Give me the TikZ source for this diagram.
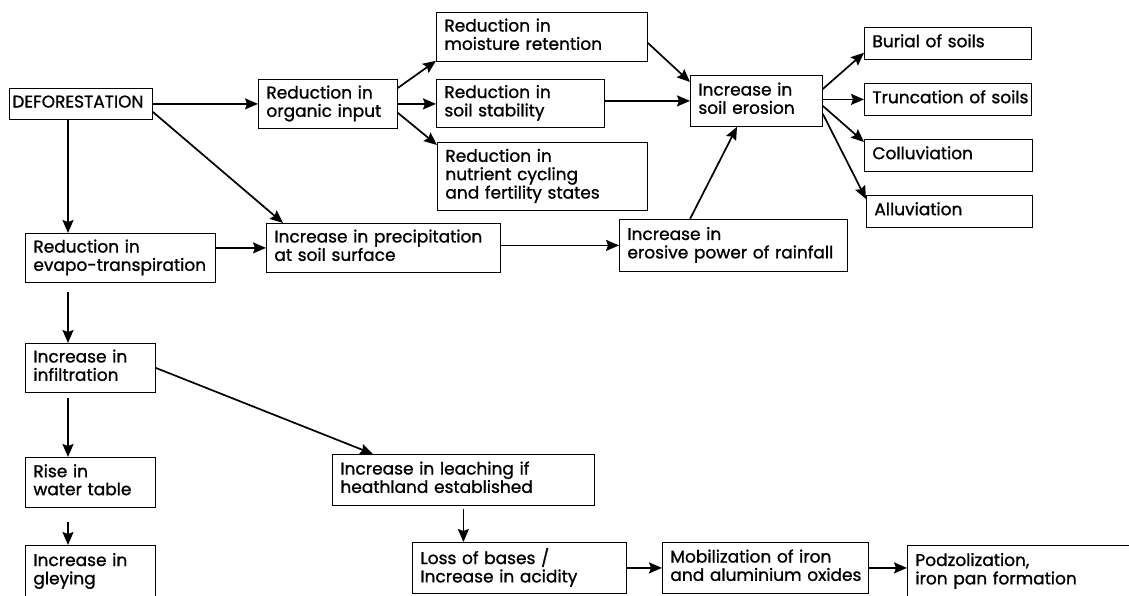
\documentclass[tikz,border=0pt]{standalone}
\usepackage{fontspec}
\setmainfont{Poppins}[FakeBold=1.1]
\usetikzlibrary{arrows.meta}
\newcommand{\pSoilText}[1]{\begin{tabular}{@{}l@{}}#1\end{tabular}}
\tikzset{
  stage/.style={draw, line width=0.8pt, anchor=north west, align=left, inner xsep=8pt, inner ysep=0pt, font=\fontsize{17}{18}\selectfont},
  flow/.style={line width=1.7pt, -{Stealth[length=13pt,width=11pt,inset=2pt]}}
}

\begin{document}
\begin{tikzpicture}[x=1pt,y=-1pt]
\useasboundingbox (0,0) rectangle (1129,595);
\node[stage, minimum width=143pt, minimum height=31pt, text width=137pt, inner xsep=3pt] (defo) at (9,88) {\pSoilText{DEFORESTATION}};
\node[stage, minimum width=139pt, minimum height=49pt, text width=123pt] (organic) at (258,79) {\pSoilText{Reduction in\\organic input}};
\node[stage, minimum width=211pt, minimum height=49pt, text width=195pt] (moisture) at (436,12) {\pSoilText{Reduction in\\moisture retention}};
\node[stage, minimum width=168pt, minimum height=48pt, text width=152pt] (stability) at (436,79) {\pSoilText{Reduction in\\soil stability}};
\node[stage, minimum width=210pt, minimum height=68pt, text width=194pt] (nutrient) at (437,142) {\pSoilText{Reduction in\\nutrient cycling\\and fertility states}};
\node[stage, minimum width=190pt, minimum height=49pt, text width=174pt] (evapo) at (25,233) {\pSoilText{Reduction in\\evapo-transpiration}};
\node[stage, minimum width=234pt, minimum height=49pt, text width=218pt] (precip) at (266,223) {\pSoilText{Increase in precipitation\\at soil surface}};
\node[stage, minimum width=228pt, minimum height=52pt, text width=212pt] (erosive) at (619,219) {\pSoilText{Increase in\\erosive power of rainfall}};
\node[stage, minimum width=132pt, minimum height=51pt, text width=116pt] (erosion) at (690,75) {\pSoilText{Increase in\\soil erosion}};
\node[stage, minimum width=167pt, minimum height=32pt, text width=151pt] (burial) at (864,27) {\pSoilText{Burial of soils}};
\node[stage, minimum width=167pt, minimum height=32pt, text width=151pt] (truncation) at (864,83) {\pSoilText{Truncation of soils}};
\node[stage, minimum width=168pt, minimum height=32pt, text width=152pt] (colluv) at (864,139) {\pSoilText{Colluviation}};
\node[stage, minimum width=166pt, minimum height=32pt, text width=150pt] (alluv) at (866,195) {\pSoilText{Alluviation}};
\node[stage, minimum width=130pt, minimum height=49pt, text width=114pt] (infil) at (25,343) {\pSoilText{Increase in\\infiltration}};
\node[stage, minimum width=130pt, minimum height=50pt, text width=114pt] (watertable) at (25,457) {\pSoilText{Rise in\\water table}};
\node[stage, minimum width=130pt, minimum height=52pt, text width=114pt] (gley) at (25,545) {\pSoilText{Increase in\\gleying}};
\node[stage, minimum width=262pt, minimum height=51pt, text width=246pt] (leaching) at (332,454) {\pSoilText{Increase in leaching if\\heathland established}};
\node[stage, minimum width=214pt, minimum height=51pt, text width=198pt] (bases) at (412,542) {\pSoilText{Loss of bases /\\Increase in acidity}};
\node[stage, minimum width=206pt, minimum height=51pt, text width=190pt] (mobil) at (662,542) {\pSoilText{Mobilization of iron\\and aluminium oxides}};
\node[stage, minimum width=228pt, minimum height=52pt, text width=212pt] (podzol) at (907,545) {\pSoilText{Podzolization,\\iron pan formation}};

\draw[flow] (defo.east) -- (organic.west);
\draw[flow] ([yshift=-8pt]defo.east) -- ([xshift=17pt]precip.north west);
\draw[flow] ([xshift=59pt]defo.south west) -- ([xshift=59pt]defo.south west |- evapo.north);
\draw[flow] ([yshift=-9pt]organic.north east) -- ([yshift=1pt]moisture.south west);
\draw[flow] (organic.east) -- (organic.east -| stability.west);
\draw[flow] ([yshift=16pt]organic.south east) -- ([yshift=-3pt]nutrient.north west);
\draw[flow] ([yshift=-6pt]moisture.east) -- ([yshift=-7pt]erosion.north west);
\draw[flow] (stability.east |- erosion.west) -- (erosion.west);
\draw[flow] ([xshift=71pt]erosive.north west) -- ([xshift=47pt]erosion.south west);
\draw[flow] ([yshift=-14pt]erosion.north east) -- ([yshift=7pt]burial.south west);
\draw[flow] (erosion.east |- truncation.west) -- (truncation.west);
\draw[flow] ([yshift=-5pt]erosion.east) -- ([yshift=-3pt]colluv.north west);
\draw[flow] ([yshift=13pt]erosion.south east) -- ([yshift=-4pt]alluv.north west);
\draw[flow] (evapo.east |- precip.west) -- (precip.west);
\draw[flow] (precip.east |- erosive.west) -- (erosive.west);
\draw[flow, shorten <=9pt] ([xshift=43pt]evapo.south west) -- ([xshift=43pt]evapo.south west |- infil.north);
\draw[flow, shorten <=5pt] ([xshift=43pt]infil.south west) -- ([xshift=43pt]infil.south west |- watertable.north);
\draw[flow, shorten <=14pt] ([xshift=43pt]watertable.south west) -- ([xshift=43pt]watertable.south west |- gley.north);
\draw[flow] (infil.east) -- ([xshift=41pt]leaching.north west);
\draw[flow, shorten <=3pt] (leaching.south) -- (leaching.south |- bases.north);
\draw[flow] (bases.east) -- (bases.east -| mobil.west);
\draw[flow] (mobil.east) -- (mobil.east -| podzol.west);
\end{tikzpicture}
\end{document}
